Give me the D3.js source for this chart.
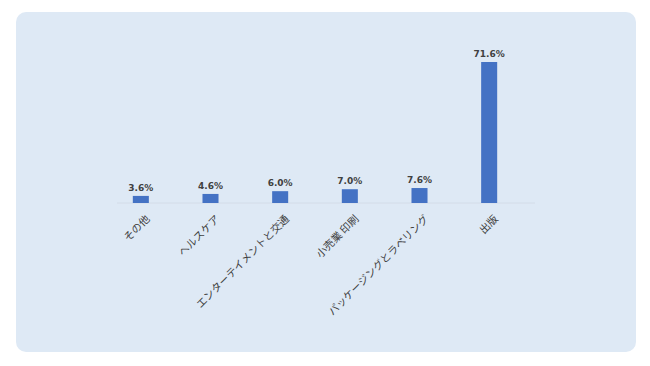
<!DOCTYPE html>
<html>
<head>
<meta charset="utf-8">
<script src="https://cdn.jsdelivr.net/npm/d3@7"></script>
<style>
  body { margin: 0; background: #ffffff; }
</style>
</head>
<body>
<div id="chart"></div>
<script>
// categories and values
const categories = ["その他", "ヘルスケア", "エンターテイメントと交通", "小売業 印刷", "パッケージングとラベリング", "出版"];
const values = [3.6, 4.6, 6.0, 7.0, 7.6, 71.6];

const width = 650, height = 366;

const svg = d3.select("#chart").append("svg")
    .attr("width", width)
    .attr("height", height);

// rounded background panel
svg.append("rect")
    .attr("x", 16)
    .attr("y", 12)
    .attr("width", 620)
    .attr("height", 340)
    .attr("rx", 10)
    .attr("fill", "#dee9f5");

let x = d3.scaleBand()
    .domain(categories)
    .range([106, 524])
    .paddingInner(0.77)
    .paddingOuter(0.385);

let y = d3.scaleLinear()
    .domain([0, 71.6])
    .range([203, 62]);

// baseline
svg.append("line")
    .attr("x1", 117)
    .attr("x2", 535)
    .attr("y1", y(0))
    .attr("y2", y(0))
    .attr("stroke", "#d3dce8")
    .attr("stroke-width", 1);

let data = categories.map((c, i) => ({cat: c, val: values[i]}));

svg.selectAll(".bar")
    .data(data)
    .join("rect")
    .attr("class", "bar")
    .attr("x", d => x(d.cat))
    .attr("width", x.bandwidth())
    .attr("y", d => y(d.val))
    .attr("height", d => y(0) - y(d.val))
    .attr("fill", "#4472c4");

// value labels above the bars
svg.selectAll(".val")
    .data(data)
    .join("text")
    .attr("class", "val")
    .attr("x", d => x(d.cat) + x.bandwidth() / 2)
    .attr("y", d => y(d.val) - 5)
    .attr("text-anchor", "middle")
    .attr("font-family", "DejaVu Sans, sans-serif")
    .attr("font-weight", "bold")
    .attr("font-size", "9px")
    .attr("fill", "#404040")
    .text(d => d.val.toFixed(1) + "%");

// rotated category labels
svg.selectAll(".cat")
    .data(data)
    .join("text")
    .attr("class", "cat")
    .attr("transform", d => `translate(${x(d.cat) + x.bandwidth() / 2 + 7}, 217) rotate(-45)`)
    .attr("text-anchor", "end")
    .attr("dy", "0.35em")
    .attr("font-family", "Noto Sans CJK JP, sans-serif")
    .attr("font-size", "10.5px")
    .attr("fill", "#404040")
    .text(d => d.cat);
</script>
</body>
</html>
